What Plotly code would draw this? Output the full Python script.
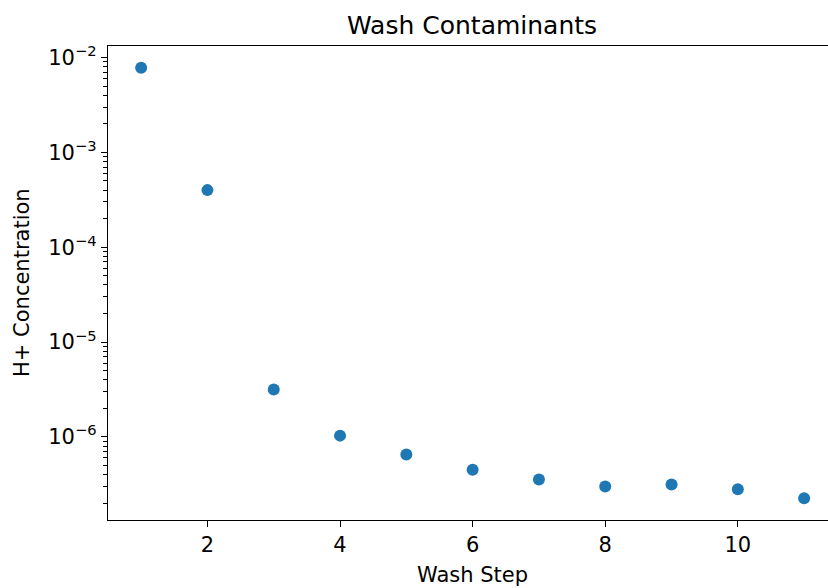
import plotly.graph_objects as go

# Wash step vs measured H+ concentration
wash_step = [1, 2, 3, 4, 5, 6, 7, 8, 9, 10, 11]
h_conc = [7.8e-3, 4.0e-4, 3.15e-6, 1.03e-6, 6.5e-7, 4.5e-7, 3.55e-7, 3.0e-7, 3.15e-7, 2.8e-7, 2.25e-7]

x_ticks = [2, 4, 6, 8, 10]
y_tickvals = [1e-6, 1e-5, 1e-4, 1e-3, 1e-2]
y_ticktext = ["10<sup>−6</sup>", "10<sup>−5</sup>", "10<sup>−4</sup>", "10<sup>−3</sup>", "10<sup>−2</sup>"]

font = "DejaVu Sans"

fig = go.Figure()
fig.add_trace(go.Scatter(
    x=wash_step, y=h_conc, mode="markers",
    marker=dict(color="#1f77b4", size=12, line=dict(width=0)),
))

fig.update_layout(
    width=828, height=588,
    margin=dict(l=108, r=0, t=46, b=68),
    paper_bgcolor="white", plot_bgcolor="white",
    showlegend=False,
    font=dict(family=font, size=21, color="black"),
)

fig.update_xaxes(
    range=[0.5, 11.36],
    tickvals=x_ticks, ticktext=[str(v) for v in x_ticks],
    ticks="outside", ticklen=6, tickwidth=1.3, tickcolor="black",
    showline=True, linecolor="black", linewidth=1.3, mirror=True,
    showgrid=False, zeroline=False,
)
fig.update_yaxes(
    type="log", range=[-6.877, -1.878],
    tickvals=y_tickvals, ticktext=y_ticktext,
    ticks="outside", ticklen=6, tickwidth=1.3, tickcolor="black",
    minor=dict(ticks="outside", ticklen=3.5, tickwidth=1, tickcolor="black", dtick="D1", showgrid=False),
    showline=True, linecolor="black", linewidth=1.3,
    showgrid=False, zeroline=False,
)

fig.add_annotation(
    text="Wash Contaminants", xref="paper", yref="paper",
    x=(472 - 108) / 720, y=1, yshift=21, showarrow=False,
    xanchor="center", yanchor="middle", font=dict(family=font, size=25),
)
fig.add_annotation(
    text="Wash Step", xref="paper", yref="paper",
    x=(472 - 108) / 720, y=0, yshift=-55, showarrow=False,
    xanchor="center", yanchor="middle", font=dict(family=font, size=21),
)
fig.add_annotation(
    text="H+ Concentration", xref="paper", yref="paper",
    x=0, xshift=-86, y=0.5, textangle=-90, showarrow=False,
    xanchor="center", yanchor="middle", font=dict(family=font, size=21),
)

fig.write_html("out.html")
